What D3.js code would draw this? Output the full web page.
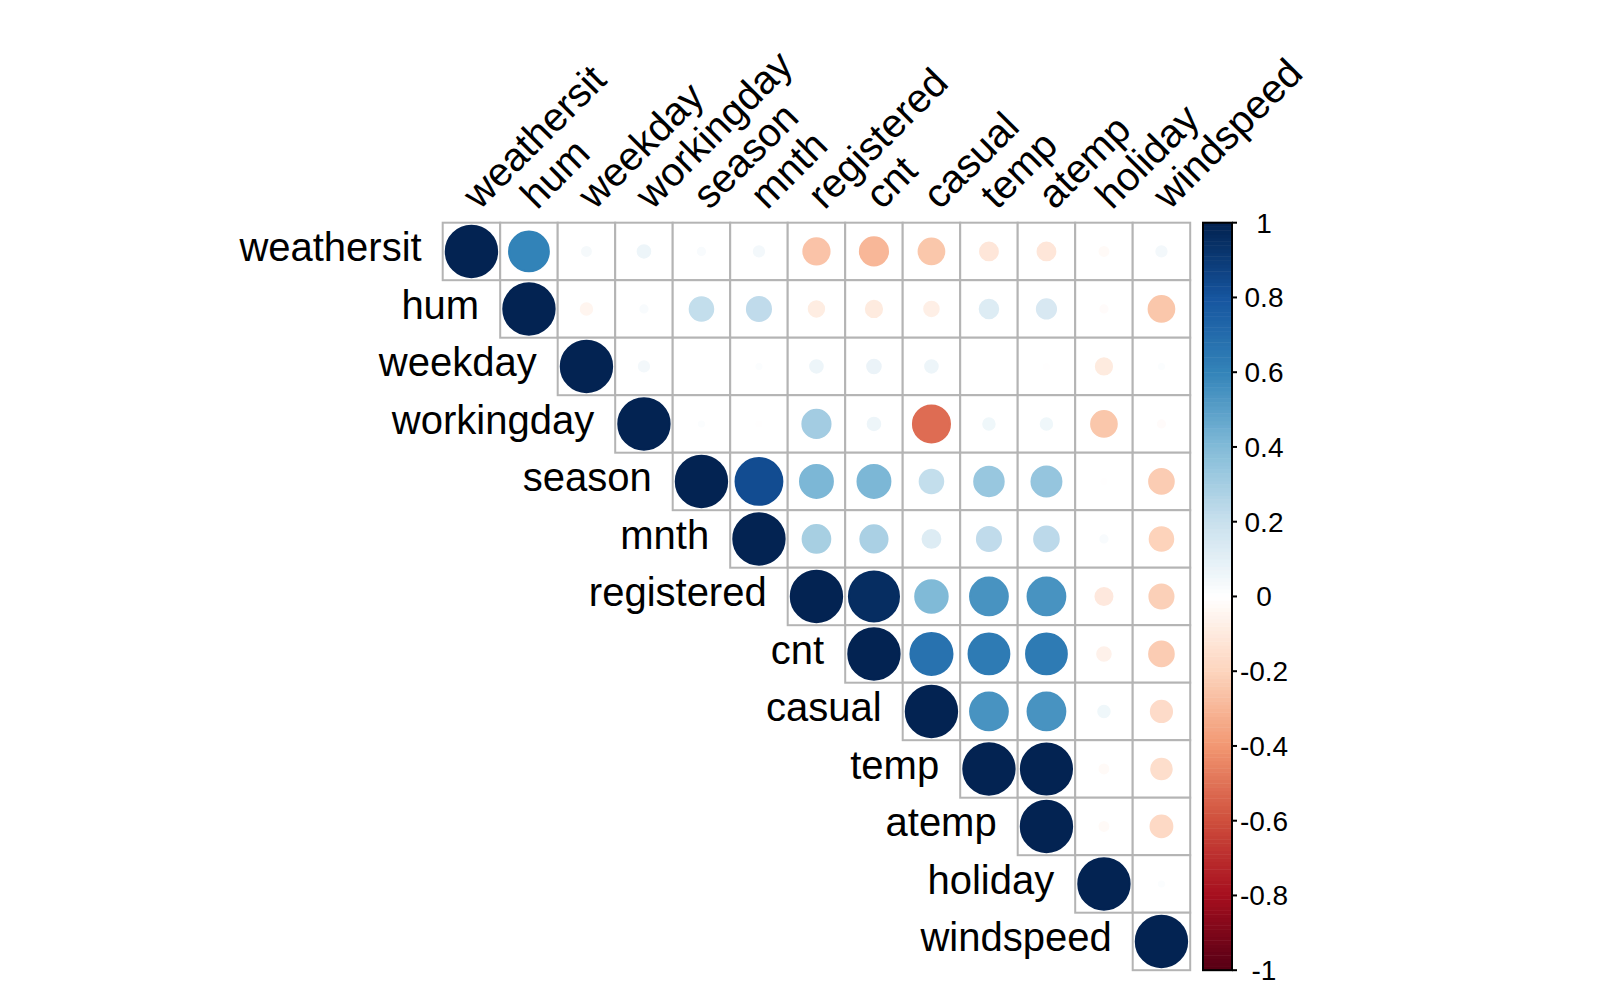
<!DOCTYPE html>
<html>
<head>
<meta charset="utf-8">
<script src="https://cdn.jsdelivr.net/npm/d3@7"></script>
<style>
  html, body { margin: 0; padding: 0; background: #fff; }
  text { font-family: "Liberation Sans", Arial, Helvetica, sans-serif; fill: #000; }
</style>
</head>
<body>
<div id="chart"></div>
<script>
let width = 1620;
let height = 1001;

// variable order (hclust order from corrplot)
let vars = ["weathersit","hum","weekday","workingday","season","mnth","registered",
            "cnt","casual","temp","atemp","holiday","windspeed"];

// upper triangle of the correlation matrix, one row per variable (from the diagonal on)
let rowWeathersit = [1, 0.6, 0.03, 0.06, 0.02, 0.04, -0.26, -0.30, -0.25, -0.12, -0.12, -0.03, 0.04];
let rowHum        = [1, -0.05, 0.02, 0.21, 0.22, -0.09, -0.10, -0.08, 0.13, 0.14, -0.02, -0.25];
let rowWeekday    = [1, 0.04, 0.00, 0.01, 0.06, 0.07, 0.06, 0.00, -0.01, -0.10, 0.01];
let rowWorkingday = [1, 0.01, -0.01, 0.30, 0.06, -0.52, 0.05, 0.05, -0.25, -0.02];
let rowSeason     = [1, 0.83, 0.41, 0.41, 0.21, 0.33, 0.34, -0.01, -0.23];
let rowMnth       = [1, 0.29, 0.28, 0.12, 0.22, 0.23, 0.02, -0.21];
let rowRegistered = [1, 0.95, 0.40, 0.54, 0.54, -0.11, -0.22];
let rowCnt        = [1, 0.67, 0.63, 0.63, -0.07, -0.23];
let rowCasual     = [1, 0.54, 0.54, 0.05, -0.17];
let rowTemp       = [1, 0.99, -0.03, -0.16];
let rowAtemp      = [1, -0.03, -0.18];
let rowHoliday    = [1, 0.01];
let rowWindspeed  = [1];

let legendTicks = [1, 0.8, 0.6, 0.4, 0.2, 0, -0.2, -0.4, -0.6, -0.8, -1];

// RdBu palette stops as used by corrplot
let paletteStops = ["#67001F","#B2182B","#D6604D","#F4A582","#FDDBC7","#FFFFFF",
                    "#D1E5F0","#92C5DE","#4393C3","#2166AC","#053061"];

let rows = [rowWeathersit,rowHum,rowWeekday,rowWorkingday,rowSeason,rowMnth,rowRegistered,
            rowCnt,rowCasual,rowTemp,rowAtemp,rowHoliday,rowWindspeed];

// flatten into cells
let cells = [];
rows.forEach(function(r, i){
    r.forEach(function(v, k){
        cells.push({row: vars[i], col: vars[i + k], value: v});
    });
});

let gridLeft = 442.7, gridTop = 222.7, cell = 57.5;
let n = vars.length;

let svg = d3.select("#chart").append("svg")
            .attr("width", width)
            .attr("height", height);

let x = d3.scaleBand().domain(vars).range([gridLeft, gridLeft + cell*n]);
let y = d3.scaleBand().domain(vars).range([gridTop, gridTop + cell*n]);

let colorDomain = d3.range(paletteStops.length).map(i => -1 + 2*i/(paletteStops.length-1));
let ramp = d3.scaleLinear().domain(colorDomain).range(paletteStops).interpolate(d3.interpolateRgb);
// the png looks a bit darker than the raw palette, so apply a small gamma
let color = function(v){
    let c = d3.rgb(ramp(v));
    let g = ch => Math.round(255 * Math.pow(ch / 255, 1.2));
    return d3.rgb(g(c.r), g(c.g), g(c.b)).formatHex();
};
// corrplot uses 200 discrete colours
let nCol = 200;
let discrete = function(v){
    let idx = Math.min(nCol-1, Math.floor((v + 1) / 2 * nCol));
    return color(-1 + (idx + 0.5) * 2 / nCol);
};

let rad = d3.scaleSqrt().domain([0, 1]).range([0, 25.7]);

// cell backgrounds with grey borders
svg.append("g").selectAll("rect")
   .data(cells)
   .join("rect")
   .attr("x", d => x(d.col))
   .attr("y", d => y(d.row))
   .attr("width", cell)
   .attr("height", cell)
   .attr("fill", "#fff")
   .attr("stroke", "#b4b4b4")
   .attr("stroke-width", 2);

// circles
svg.append("g").selectAll("circle")
   .data(cells)
   .join("circle")
   .attr("cx", d => x(d.col) + cell/2)
   .attr("cy", d => y(d.row) + cell/2)
   .attr("r", d => rad(Math.abs(d.value)))
   .attr("fill", d => discrete(d.value))
   .attr("stroke", d => discrete(d.value))
   .attr("stroke-width", 2);

// row labels, right aligned before the diagonal cell
svg.append("g").selectAll("text")
   .data(vars)
   .join("text")
   .attr("x", d => x(d) - 21)
   .attr("y", d => y(d) + cell/2 + 10)
   .attr("text-anchor", "end")
   .attr("font-size", 40)
   .text(d => d);

// column labels rotated 45 deg
svg.append("g").selectAll("text")
   .data(vars)
   .join("text")
   .attr("transform", d => "translate(" + (x(d) + cell/2 + 8) + "," + (gridTop - 12) + ") rotate(-45)")
   .attr("text-anchor", "start")
   .attr("font-size", 40)
   .text(d => d);

// colour legend
let barLeft = 1203, barW = 29;
let ly = d3.scaleLinear().domain([-1, 1]).range([gridTop + cell*n, gridTop]);
let steps = d3.range(nCol).map(i => -1 + (i + 0.5) * 2 / nCol);
let legend = svg.append("g");
legend.selectAll("rect")
   .data(steps)
   .join("rect")
   .attr("x", barLeft)
   .attr("y", d => ly(d + 1/nCol))
   .attr("width", barW)
   .attr("height", ly(-1) - ly(-1 + 2/nCol) + 0.5)
   .attr("fill", d => color(d));
legend.append("rect")
   .attr("x", barLeft).attr("y", ly(1))
   .attr("width", barW).attr("height", ly(-1) - ly(1))
   .attr("fill", "none").attr("stroke", "#000").attr("stroke-width", 2);

legend.selectAll("line")
   .data(legendTicks)
   .join("line")
   .attr("x1", barLeft + barW).attr("x2", barLeft + barW + 5)
   .attr("y1", d => ly(d)).attr("y2", d => ly(d))
   .attr("stroke", "#000").attr("stroke-width", 2);

legend.selectAll("text")
   .data(legendTicks)
   .join("text")
   .attr("x", 1264)
   .attr("y", d => ly(d) + 10)
   .attr("text-anchor", "middle")
   .attr("font-size", 28)
   .text(d => d);
</script>
</body>
</html>
